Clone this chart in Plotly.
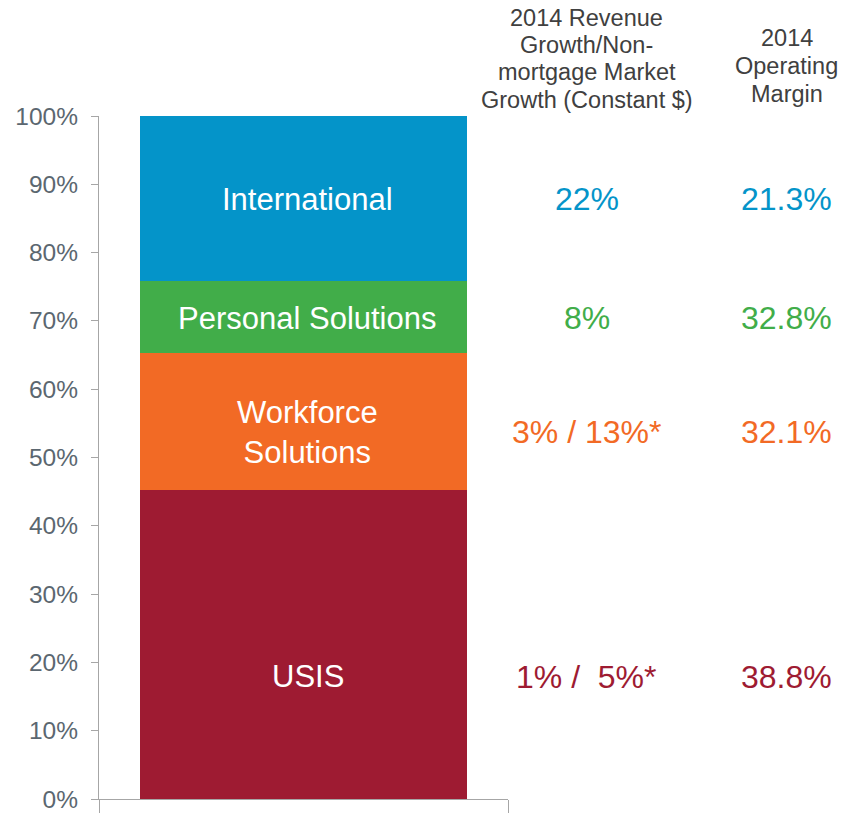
import plotly.graph_objects as go

segments = ["USIS", "Workforce Solutions", "Personal Solutions", "International"]
bar_labels = ["USIS", "Workforce<br>Solutions", "Personal Solutions", "International"]
shares = [45.2, 20.1, 10.6, 24.1]
revenue_growth = ["1% / \u00a05%*", "3% / 13%*", "8%", "22%"]
operating_margin = ["38.8%", "32.1%", "32.8%", "21.3%"]
colors = ["#9E1B32", "#F26A25", "#41AD49", "#0494C9"]
label_y = [17.9, 53.7, 70.4, 87.8]

col1_header = ["2014 Revenue", "Growth/Non-", "mortgage Market", "Growth (Constant $)"]
col2_header = ["2014", "Operating", "Margin"]
col1_header_px = [18, 45, 72, 100]
col2_header_px = [38, 66, 94]

FONT = "Liberation Sans, Arial, sans-serif"
PLOT_TOP, PLOT_BOTTOM = 116, 799

fig = go.Figure()
for name, val, col in zip(segments, shares, colors):
    fig.add_trace(go.Bar(x=["2014"], y=[val], name=name, marker=dict(color=col, line=dict(width=0)),
                         hoverinfo="skip"))

annotations = []
for lab, ly, g, m, col in zip(bar_labels, label_y, revenue_growth, operating_margin, colors):
    annotations.append(dict(x=0, y=ly, xref="x", yref="y", text=lab, showarrow=False,
                            xanchor="center", yanchor="middle", xshift=4,
                            font=dict(family=FONT, size=31, color="white")))
    annotations.append(dict(x=1.193, y=ly, xref="paper", yref="y", text=g, showarrow=False,
                            xanchor="center", yanchor="middle",
                            font=dict(family=FONT, size=32, color=col)))
    annotations.append(dict(x=1.682, y=ly, xref="paper", yref="y", text=m, showarrow=False,
                            xanchor="center", yanchor="middle",
                            font=dict(family=FONT, size=32, color=col)))

for xpos, lines, pys in [(1.193, col1_header, col1_header_px), (1.682, col2_header, col2_header_px)]:
    for line, py in zip(lines, pys):
        annotations.append(dict(x=xpos, y=(PLOT_BOTTOM - py) / (PLOT_BOTTOM - PLOT_TOP),
                                xref="paper", yref="paper", text=line, showarrow=False,
                                xanchor="center", yanchor="middle",
                                font=dict(family=FONT, size=23.5, color="#404040")))

fig.update_layout(
    barmode="stack",
    bargap=0.2,
    width=842, height=813,
    margin=dict(l=99, r=334, t=116, b=14),
    plot_bgcolor="white", paper_bgcolor="white",
    showlegend=False,
    annotations=annotations,
    font=dict(family=FONT),
)
fig.update_yaxes(range=[0, 100], dtick=10, ticksuffix="%", showgrid=False, zeroline=False,
                 showline=True, linecolor="#A6A6A6", linewidth=1.3, ticks="outside", ticklen=7,
                 tickcolor="#A6A6A6", tickfont=dict(family=FONT, size=24.5, color="#5B6770"),
                 ticklabelstandoff=8, automargin=False)
fig.update_xaxes(showticklabels=False, showline=True, linecolor="#A6A6A6", linewidth=1.3,
                 ticks="outside", tickson="boundaries", ticklen=14, tickcolor="#A6A6A6",
                 showgrid=False, automargin=False)

fig.write_html("out.html", config={"displayModeBar": False},
               post_script="document.body.style.margin='0px';")
